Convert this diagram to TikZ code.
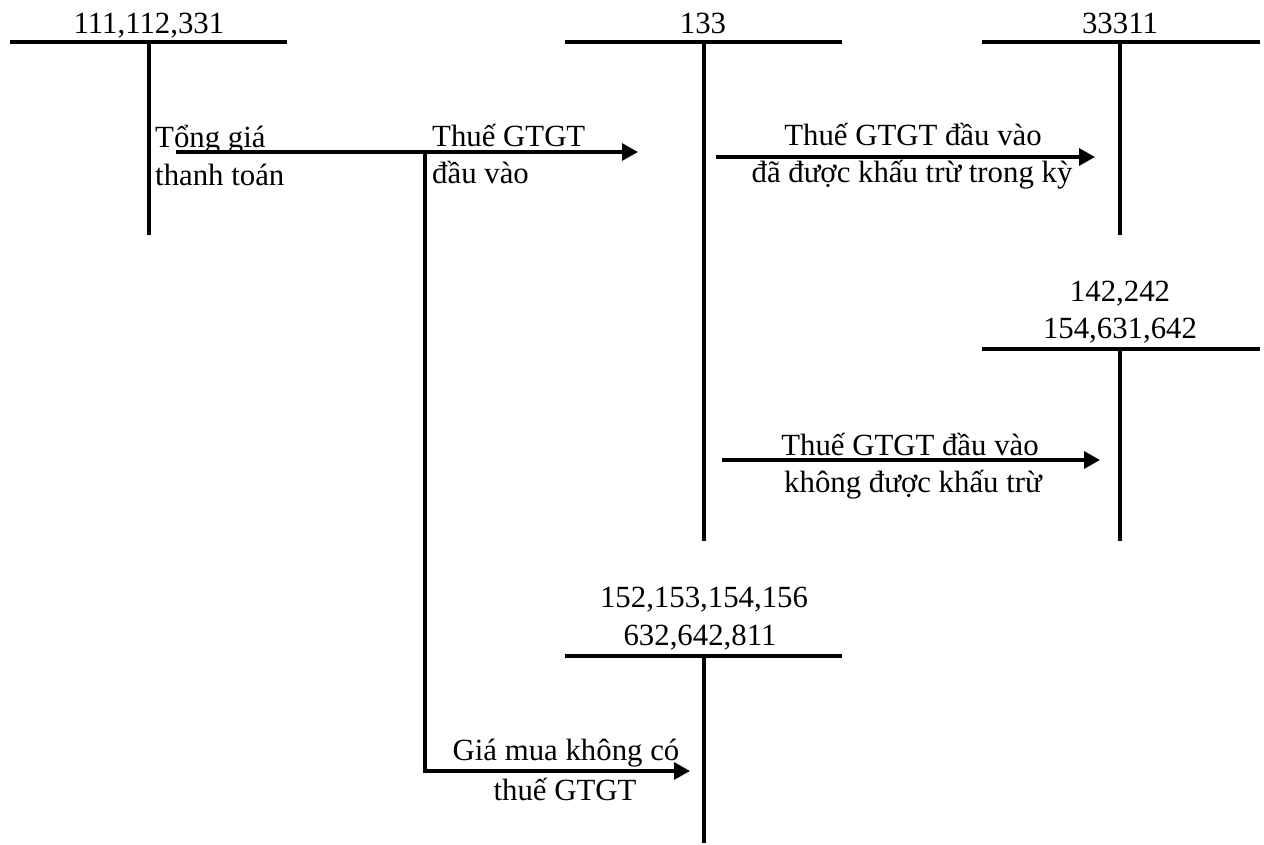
\documentclass[tikz,border=0pt]{standalone}
\usepackage{fontspec}
\setmainfont{Liberation Serif}
\usetikzlibrary{arrows.meta}
\tikzset{
  tline/.style={line width=3.2pt, line cap=butt},
  conn/.style={line width=3.2pt, -{Triangle[length=16pt,width=17pt]}},
  lbl/.style={inner sep=0pt, anchor=base, font=\fontsize{30.8}{36}\selectfont},
  lbll/.style={inner sep=0pt, anchor=base west, font=\fontsize{30.8}{36}\selectfont},
}
\begin{document}
\begin{tikzpicture}[x=1pt,y=-1pt]
\useasboundingbox (0,0) rectangle (1264,844);
% T-account 111,112,331
\coordinate (aL) at (10,42); \coordinate (aR) at (287,42);
\coordinate (aT) at (149,42); \coordinate (aB) at (149,235);
\draw[tline] (aL) -- (aR); \draw[tline] (aT) -- (aB);
\node[lbl] (aN) at (149,33) {111,112,331};
% T-account 133
\coordinate (bL) at (565,42); \coordinate (bR) at (842,42);
\coordinate (bT) at (704,42); \coordinate (bB) at (704,541);
\draw[tline] (bL) -- (bR); \draw[tline] (bT) -- (bB);
\node[lbl] (bN) at (703,33) {133};
% T-account 33311
\coordinate (cL) at (982,42); \coordinate (cR) at (1260,42);
\coordinate (cT) at (1120,42); \coordinate (cB) at (1120,235);
\draw[tline] (cL) -- (cR); \draw[tline] (cT) -- (cB);
\node[lbl] (cN) at (1120,33) {33311};
% T-account 142,242 / 154,631,642
\coordinate (dL) at (982,349); \coordinate (dR) at (1260,349);
\coordinate (dT) at (1120,349); \coordinate (dB) at (1120,541);
\draw[tline] (dL) -- (dR); \draw[tline] (dT) -- (dB);
\node[lbl] (dN1) at (1120,301) {142,242};
\node[lbl] (dN2) at (1120,338) {154,631,642};
% T-account 152,... / 632,...
\coordinate (eL) at (565,656); \coordinate (eR) at (842,656);
\coordinate (eT) at (704,656); \coordinate (eB) at (704,843);
\draw[tline] (eL) -- (eR); \draw[tline] (eT) -- (eB);
\node[lbl] (eN1) at (704,607) {152,153,154,156};
\node[lbl] (eN2) at (700,645) {632,642,811};
% Arrow 1
\coordinate (s1) at (176,152); \coordinate (e1) at (638,152);
\draw[conn] (s1) -- (e1);
\node[lbll] (t1a) at (155,147) {Tổng giá};
\node[lbll] (t1b) at (155,185) {thanh toán};
\node[lbll] (t1c) at (432,146) {Thuế GTGT};
\node[lbll] (t1d) at (432,183) {đầu vào};
% Arrow 4 (branch)
\coordinate (s4) at (425,152); \coordinate (k4) at (425,771); \coordinate (e4) at (690,771);
\draw[conn] (s4) -- (k4) -- (e4);
\node[lbl] (t4a) at (566,760) {Giá mua không có};
\node[lbl] (t4b) at (565,800) {thuế GTGT};
% Arrow 2
\coordinate (s2) at (716,157); \coordinate (e2) at (1095,157);
\draw[conn] (s2) -- (e2);
\node[lbl] (t2a) at (913,145) {Thuế GTGT đầu vào};
\node[lbl] (t2b) at (912,182) {đã được khấu trừ trong kỳ};
% Arrow 3
\coordinate (s3) at (722,460); \coordinate (e3) at (1100,460);
\draw[conn] (s3) -- (e3);
\node[lbl] (t3a) at (910,455) {Thuế GTGT đầu vào};
\node[lbl] (t3b) at (913,492) {không được khấu trừ};
\end{tikzpicture}
\end{document}
